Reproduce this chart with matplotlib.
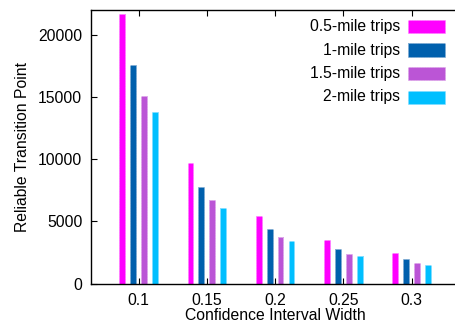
import matplotlib
matplotlib.use("Agg")
import matplotlib.pyplot as plt
from matplotlib.patches import Rectangle
import numpy as np

plt.rcParams['font.family'] = ['Liberation Sans', 'DejaVu Sans']

widths = ['0.1', '0.15', '0.2', '0.25', '0.3']
series = ['0.5-mile trips', '1-mile trips', '1.5-mile trips', '2-mile trips']
trips_05 = [21700, 9670, 5440, 3490, 2440]
trips_10 = [17540, 7790, 4390, 2810, 1960]
trips_15 = [15100, 6720, 3780, 2410, 1690]
trips_20 = [13790, 6080, 3450, 2230, 1530]
colors = ['#ff00ff', '#0060ad', '#bb55d6', '#00bfff']
edges = ['#ff77ff', '#7fa8d0', '#dca0e8', '#80dcff']

W, H = 455, 327
fig = plt.figure(figsize=(W / 100, H / 100), dpi=100)
# axes runs slightly past the right edge (no right border visible)
left, right, top, bottom = 90.7, 459.5, 9.8, 283.7
ax = fig.add_axes([left / W, 1 - bottom / H, (right - left) / W, (bottom - top) / H])

x = np.arange(len(widths))
step = 0.16
bw = 0.085
for i, vals in enumerate([trips_05, trips_10, trips_15, trips_20]):
    ax.bar(x + (i - 1.5) * step, vals, width=bw, color=colors[i],
           edgecolor=edges[i], linewidth=0.7, linestyle=':', zorder=2)

ax.set_xlim(-0.7, 4.7)
ax.set_ylim(0, 22000)
ax.set_xticks(x)
ax.set_xticklabels(widths)
ax.set_yticks([0, 5000, 10000, 15000, 20000])
ax.tick_params(axis='both', direction='in', length=4, width=0.8,
               labelsize=11.3, pad=6)
ax.tick_params(axis='x', top=True, pad=7)
ax.spines['right'].set_visible(False)
for s in ['left', 'top', 'bottom']:
    ax.spines[s].set_linewidth(1.0)

ax.set_xlabel('Confidence Interval Width', fontsize=11.3, labelpad=0)
ax.set_ylabel('Reliable Transition Point', fontsize=11.3, labelpad=6)

# key in the upper right, text right-aligned with swatch after it
rows_y = [26.5, 50, 73.5, 97]
for name, c, e, yy in zip(series, colors, edges, rows_y):
    fig.text(400 / W, 1 - yy / H, name, ha='right', va='center', fontsize=11.3)
    fig.patches.append(Rectangle((408 / W, 1 - (yy + 6.5) / H), 37 / W, 13 / H,
                                 transform=fig.transFigure, facecolor=c,
                                 edgecolor=e, linewidth=0.7, linestyle=':'))

fig.savefig('out.png', dpi=100)
